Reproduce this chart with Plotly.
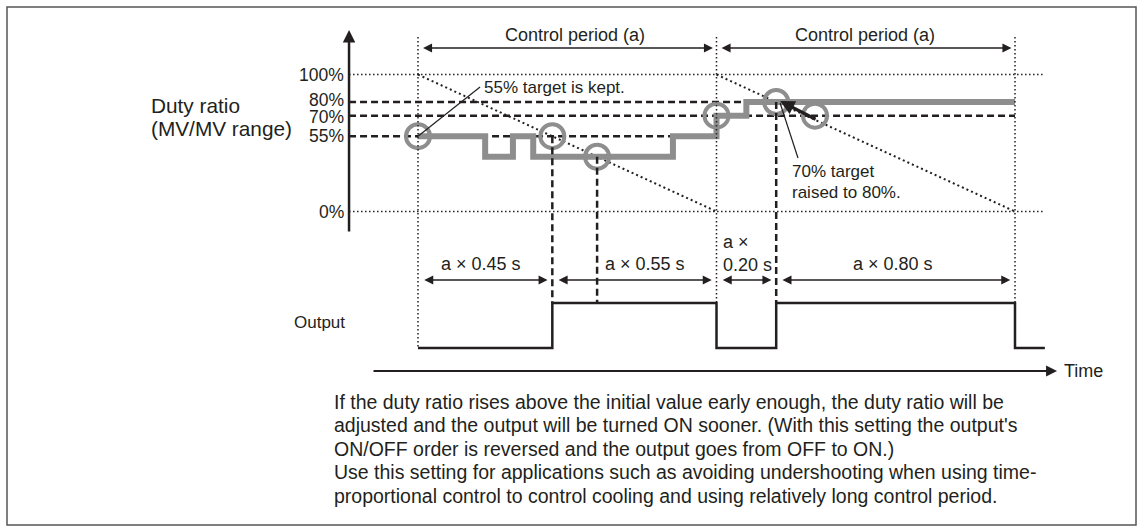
import plotly.graph_objects as go

# ---- data -------------------------------------------------------------
# time is measured in control periods (a)
PERIOD_EDGES = [0.0, 1.0, 2.0]
PERIOD_LABEL = "Control period (a)"

# duty-ratio levels (%) and their tick labels
LEVEL_TICKS = [0, 55, 70, 80, 100]
TICK_TEXT = ["0%", "55%", "70%", "80%", "100%"]

# manipulated variable (duty ratio, %) as a step trace
MV_T = [0.0, 0.225, 0.318, 0.386, 0.854, 1.0, 1.10, 2.0]
MV_P = [55, 40, 55, 40, 55, 70, 80, 80]

# circled points on the duty-ratio curve (time, %)
MARK_T = [0.0, 0.45, 0.60, 1.0, 1.20, 1.33]
MARK_P = [55, 55, 40, 70, 80, 70]

# output ON/OFF signal
OUT_T = [0.0, 0.45, 1.0, 1.2, 2.0, 2.1]
OUT_S = [0, 1, 0, 1, 0, 0]

# output intervals and their labels
SPANS = [(0.0, 0.45), (0.45, 1.0), (1.0, 1.2), (1.2, 2.0)]
SPAN_TEXT = ["a × 0.45 s", "a × 0.55 s", "a ×<br>0.20 s", "a × 0.80 s"]

NOTE_LINES = [
    "If the duty ratio rises above the initial value early enough, the duty ratio will be",
    "adjusted and the output will be turned ON sooner. (With this setting the output's",
    "ON/OFF order is reversed and the output goes from OFF to ON.)",
    "Use this setting for applications such as avoiding undershooting when using time-",
    "proportional control to control cooling and using relatively long control period.",
]

# ---- layout constants -------------------------------------------------
X_RANGE = [-1.4003, 2.4288]
Y_RANGE = [-234.1, 154.5]      # duty ratio axis (%)
OUT_RANGE = [-4.089, 7.733]    # output axis (0 = OFF, 1 = ON)

FONT = "Liberation Sans, Arial, Helvetica, sans-serif"
INK = "#231f20"
GRAY = "#8e8e8e"

AXIS_T = -0.231          # where the duty-ratio axis stands
GUIDE_END_T = 2.1        # right end of the 0% / 100% guides
GUIDE_TOP = 6.91         # top of the vertical period guides (output units)
DIM_Y = 1.511            # height of the interval arrows (output units)
TIME_Y = -0.511          # time axis (output units)
PERIOD_ARROW_P = 119.4
PERIOD_LABEL_P = 129.0


def duty_to_out(p):
    f = (p - Y_RANGE[0]) / (Y_RANGE[1] - Y_RANGE[0])
    return OUT_RANGE[0] + f * (OUT_RANGE[1] - OUT_RANGE[0])


fig = go.Figure()


def line(x, y, axis="y", color=INK, width=1.5, dash="solid", shape="linear"):
    fig.add_trace(go.Scatter(
        x=x, y=y, yaxis=axis, mode="lines", hoverinfo="skip", showlegend=False,
        line=dict(color=color, width=width, dash=dash, shape=shape)))


DOT = "1.5px,2.5px"
DASH = "7px,4px"

# 0% and 100% dotted guides
for lv in (LEVEL_TICKS[0], LEVEL_TICKS[-1]):
    line([AXIS_T, GUIDE_END_T], [lv, lv], width=1.5, dash=DOT)

# falling dotted reference within each period (100% -> 0%)
for k in range(len(PERIOD_EDGES) - 1):
    line([PERIOD_EDGES[k], PERIOD_EDGES[k + 1]], [LEVEL_TICKS[-1], LEVEL_TICKS[0]],
         width=2, dash="2px,3px")

# dashed target levels
for lv, t_end in ((55, 1.0), (70, 2.0), (80, 2.0)):
    line([AXIS_T, t_end], [lv, lv], width=2.5, dash=DASH)

# vertical dotted period guides
for t, s_end in zip(PERIOD_EDGES, (0, 1, 1)):
    line([t, t], [GUIDE_TOP, s_end], axis="y2", width=1.5, dash=DOT)

# vertical dashed switching guides
for t, p in ((0.45, 55), (0.60, 40), (1.2, 80)):
    line([t, t], [duty_to_out(p), 1], axis="y2", width=2.5, dash=DASH)

# output signal
line(OUT_T, OUT_S, axis="y2", width=2.5, shape="hv")

# duty ratio step curve
line(MV_T, MV_P, color=GRAY, width=6, shape="hv")

# circled points
fig.add_trace(go.Scatter(
    x=MARK_T, y=MARK_P, mode="markers", hoverinfo="skip", showlegend=False,
    marker=dict(symbol="circle-open", size=24, color=GRAY, line=dict(width=4, color=GRAY))))

# leader lines for the notes
line([0.0, 0.208], [55, 90.9], width=1.2)
line([1.273, 1.213], [39.1, 79.3], width=1.2)

ann = []


def text(x, y, s, axis="y", size=17.5, xanchor="center", yanchor="middle", align="center",
         yshift=0):
    ann.append(dict(x=x, y=y, xref="x", yref=axis, text=s, showarrow=False,
                    xanchor=xanchor, yanchor=yanchor, align=align, yshift=yshift,
                    font=dict(family=FONT, size=size, color=INK)))


def arrow(x0, y0, x1, y1, axis="y", width=1.5, size=1.3, both=False):
    ann.append(dict(x=x1, y=y1, ax=x0, ay=y0, xref="x", yref=axis, axref="x", ayref=axis,
                    text="", showarrow=True, arrowhead=2, arrowsize=size, arrowwidth=width,
                    arrowcolor=INK, arrowside="end+start" if both else "end",
                    startarrowhead=2, startarrowsize=size, standoff=0, startstandoff=0))


# axes with arrowheads
arrow(AXIS_T, -15.7, AXIS_T, 132.6, width=2.5, size=1.0)
arrow(-0.154, TIME_Y, 2.141, TIME_Y, axis="y2", width=2, size=1.1)

# period dimension arrows
gap_p = 0.012
for k in range(len(PERIOD_EDGES) - 1):
    a, b = PERIOD_EDGES[k], PERIOD_EDGES[k + 1]
    arrow(a + gap_p, PERIOD_ARROW_P, b - gap_p, PERIOD_ARROW_P, width=1.5, size=1.2, both=True)
text(0.526, PERIOD_LABEL_P, PERIOD_LABEL, size=18)
text(1.497, PERIOD_LABEL_P, PERIOD_LABEL, size=18)

# output interval arrows
gap_s = 0.016
for a, b in SPANS:
    arrow(a + gap_s, DIM_Y, b - gap_s, DIM_Y, axis="y2", width=1.5, size=1.2, both=True)
text(0.211, 1.87, SPAN_TEXT[0], axis="y2", size=18)
text(0.761, 1.87, SPAN_TEXT[1], axis="y2", size=18)
text(1.015, 2.09, SPAN_TEXT[2], axis="y2", size=18, xanchor="left", align="left")
text(1.591, 1.87, SPAN_TEXT[3], axis="y2", size=18)

# tick labels of the duty-ratio axis (70% / 80% nudged apart slightly)
TICK_NUDGE = {70: -1.5, 80: 1.5}
for v, s in zip(LEVEL_TICKS, TICK_TEXT):
    text(AXIS_T - 0.01, v, s, size=17.5, xanchor="right", yshift=TICK_NUDGE.get(v, 0))

text(-0.901, 77.8, "Duty ratio", size=20.8, xanchor="left")
text(-0.901, 61.0, "(MV/MV range)", size=20.8, xanchor="left")
text(-0.238, 0.556, "Output", axis="y2", size=17, xanchor="right")
text(2.157, TIME_Y, "Time", axis="y2", size=18, xanchor="left")

text(0.214, 90.9, "55% target is kept.", size=17, xanchor="left")
text(1.246, 28.9, "70% target", size=17, xanchor="left")
text(1.246, 14.2, "raised to 80%.", size=17, xanchor="left")

# heavy arrow from the 70% point to the raised 80% point
ann.append(dict(x=1.213, y=80.7, ax=1.337, ay=66.8, xref="x", yref="y", axref="x", ayref="y",
                text="", showarrow=True, arrowhead=2, arrowsize=0.9, arrowwidth=3.2,
                arrowcolor=INK, standoff=0))

# explanatory note
for i, s in enumerate(NOTE_LINES):
    text(-0.288, -1.2 - 0.5222 * i, s, axis="y2", size=19.5, xanchor="left", align="left")

fig.update_layout(
    width=1143, height=532,
    margin=dict(l=0, r=0, t=0, b=0),
    paper_bgcolor="white", plot_bgcolor="white",
    xaxis=dict(range=X_RANGE, visible=False, fixedrange=True),
    yaxis=dict(range=Y_RANGE, visible=False, fixedrange=True),
    yaxis2=dict(range=OUT_RANGE, visible=False, overlaying="y", fixedrange=True),
    annotations=ann,
    shapes=[dict(type="rect", xref="paper", yref="paper",
                 x0=7 / 1143, x1=1136 / 1143, y0=1 - 525 / 532, y1=1 - 7 / 532,
                 line=dict(color="#555555", width=1.5))],
    showlegend=False,
)

fig.write_html("out.html", config={"displayModeBar": False})
